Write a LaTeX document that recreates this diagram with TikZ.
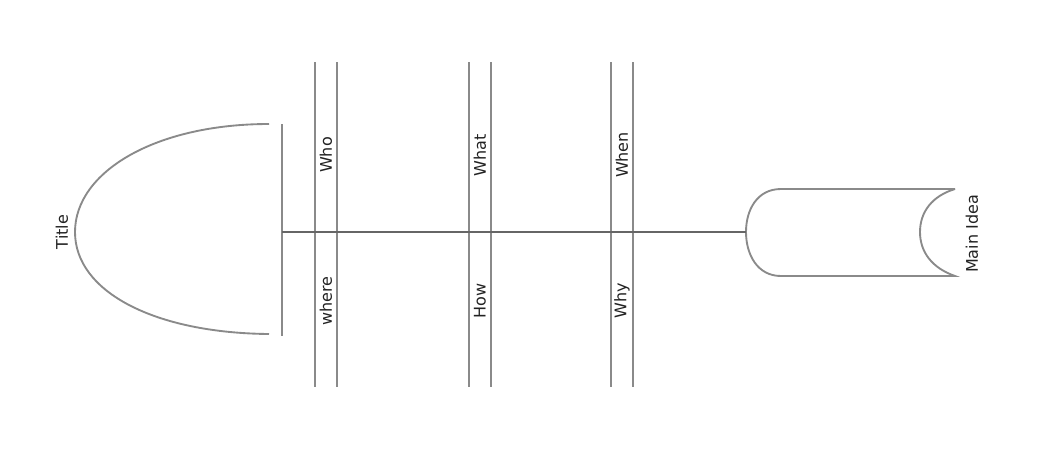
\documentclass[tikz,border=0pt]{standalone}
\usepackage{fontspec}
\setmainfont{DejaVu Sans}
\begin{document}
\begin{tikzpicture}[x=0.75pt,y=-0.75pt,font=\fontsize{12}{14}\selectfont]
  \definecolor{bone}{HTML}{8A8A8A}
  \definecolor{spine}{HTML}{666666}
  \definecolor{ink}{HTML}{222222}
  \tikzset{line/.style={draw=bone,line width=1.4pt},
    lbl/.style={text=ink,rotate=90,inner sep=1pt}}
  \useasboundingbox (0,0) rectangle (1052,457);
  % head
  \draw[line] (269,124) .. controls (155,124) and (75,172) .. (75,232)
    .. controls (75,292) and (155,333) .. (269,334);
  \draw[line] (282,124) -- (282,336);
  \node[lbl] (title) at (62,232) {Title};
  % bones
  \foreach \x/\up/\dn in {315/Who/where,469/What/How,611/When/Why} {
    \draw[line] (\x,62) -- (\x,387);
    \draw[line] (\x+22,62) -- (\x+22,387);
    \node[lbl] (\up) at (\x+11,155) {\up};
    \node[lbl] (\dn) at (\x+11,301) {\dn};
  }
  % tail
  \draw[line] (955,189) -- (781,189) .. controls (757,189) and (746,210) .. (746,232)
    .. controls (746,254) and (757,276) .. (781,276) -- (955,276)
    .. controls (932,268) and (920,252) .. (920,232)
    .. controls (920,212) and (932,196) .. (955,189);
  \node[lbl] (mainidea) at (972,234) {Main Idea};
  % spine
  \coordinate (head) at (282,232);
  \coordinate (tail) at (746,232);
  \draw[draw=spine,line width=1.4pt] (head) -- (tail);
\end{tikzpicture}
\end{document}
